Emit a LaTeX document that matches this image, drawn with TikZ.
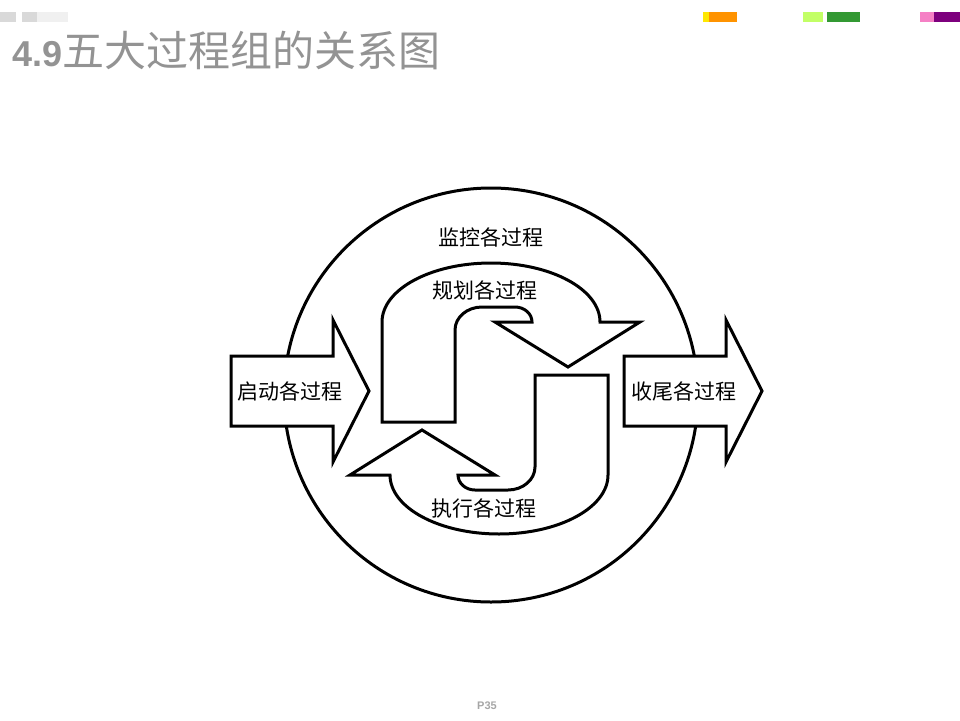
\documentclass[tikz,border=0pt]{standalone}
\usepackage{fontspec}
\setmainfont{Liberation Sans}
\newfontfamily\cjk{Noto Sans CJK SC}
\begin{document}
\begin{tikzpicture}[x=1pt,y=-1pt,
  shp/.style={draw=black,line width=3pt,fill=white,line join=miter},
  lbl/.style={font=\cjk\fontsize{21}{21}\selectfont,inner sep=0pt}]
\useasboundingbox (0,0) rectangle (960,720);
\fill[gray!30] (0,12) rectangle (16,22);
\fill[gray!30] (22,12) rectangle (37,22);
\fill[gray!12] (37,12) rectangle (68,22);
\fill[yellow!90!orange] (703,12) rectangle (709,22);
\fill[orange!85!yellow] (709,12) rectangle (737,22);
\fill[green!40!yellow!60] (803,12) rectangle (823,22);
\fill[green!50!black!80] (827,12) rectangle (860,22);
\fill[magenta!50!white] (920,12) rectangle (934,22);
\fill[violet!60!magenta!70!black] (934,12) rectangle (960,22);
\node[anchor=west,text=gray!85,inner sep=0pt] (title) at (12,50) {\fontsize{36}{36}\selectfont\textbf{4.9}\cjk\fontsize{42}{42}\selectfont 五大过程组的关系图};
\node[text=gray!70,font=\bfseries\fontsize{11}{11}\selectfont] (pg) at (487,706) {P35};
\node[draw,line width=3pt,circle,minimum size=414pt,inner sep=0pt] (c) at (491,395) {};
\draw[shp] (231,356) -- (333,356) -- (333,320) -- (369,391) -- (333,462) -- (333,426) -- (231,426) -- cycle;
\draw[shp] (624,356) -- (726,356) -- (726,320) -- (762,391) -- (726,462) -- (726,426) -- (624,426) -- cycle;
\def\uarrow{(382,422) -- (382,322) arc[start angle=180,end angle=360,x radius=109,y radius=59] -- (640,322) -- (568,367) -- (495,322) -- (532,322) arc[start angle=0,end angle=-90,x radius=17,y radius=15] -- (482,307) arc[start angle=-90,end angle=-180,x radius=27,y radius=23] -- (455,422) -- cycle}
\draw[shp] \uarrow;
\draw[shp,rotate around={180:(495,398.5)}] \uarrow;
\node[lbl] (m) at (491,237) {监控各过程};
\node[lbl] (p) at (485,290) {规划各过程};
\node[lbl] (e) at (484,508) {执行各过程};
\node[lbl] (s) at (290,391) {启动各过程};
\node[lbl] (f) at (684,391) {收尾各过程};
\end{tikzpicture}
\end{document}
